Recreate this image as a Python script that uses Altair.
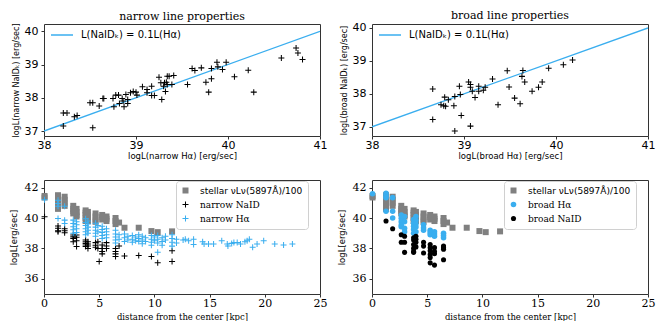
import altair as alt
import pandas as pd

BLUE = "#3aaeef"
GRAY = "#808080"
PLUS = ("M-1,-0.17L-0.17,-0.17L-0.17,-1L0.17,-1L0.17,-0.17L1,-0.17L1,0.17"
        "L0.17,0.17L0.17,1L-0.17,1L-0.17,0.17L-1,0.17Z")

# ---------------- top-left: narrow line properties ----------------
narrow_ha = [38.21, 38.25, 38.21, 38.33, 38.36, 38.50, 38.53, 38.53, 38.60, 38.64,
             38.65, 38.76, 38.75, 38.78, 38.81, 38.82, 38.85, 38.87, 38.89, 38.91,
             38.86, 38.91, 38.94, 38.97, 39.00, 39.01, 39.07, 39.12, 39.12, 39.17,
             39.17, 39.20, 39.25, 39.28, 39.27, 39.30, 39.31, 39.33, 39.32, 39.34,
             39.36, 39.34, 39.39, 39.41, 39.56, 39.61, 39.64, 39.71, 39.76, 39.79,
             39.82, 39.82, 39.88, 39.89, 39.94, 39.98, 40.07, 40.22, 40.28, 40.58,
             40.74, 40.76, 40.81]
narrow_naid = [37.54, 37.54, 37.15, 37.43, 37.47, 37.85, 37.85, 37.10, 37.75, 37.98,
               37.98, 37.73, 37.98, 38.08, 38.08, 37.83, 37.98, 37.73, 38.10, 37.83,
               37.90, 37.95, 38.15, 38.19, 38.17, 38.08, 38.33, 38.25, 38.15, 38.35,
               38.07, 38.07, 38.62, 37.95, 38.45, 38.35, 38.45, 38.47, 38.19, 38.65,
               38.65, 38.40, 38.40, 38.67, 38.40, 38.88, 38.82, 38.90, 38.47, 38.17,
               38.57, 38.88, 39.07, 38.93, 38.85, 39.07, 38.63, 38.83, 38.17, 39.20,
               39.50, 39.35, 39.15]

# ---------------- top-right: broad line properties ----------------
broad_ha = [38.66, 38.66, 38.75, 38.78, 38.79, 38.80, 38.83, 38.89, 38.90, 38.90,
            38.95, 38.96, 38.97, 39.05, 39.07, 39.07, 39.07, 39.09, 39.12, 39.16,
            39.16, 39.21, 39.23, 39.31, 39.37, 39.47, 39.49, 39.55, 39.61, 39.64,
            39.63, 39.66, 39.74, 39.81, 39.85, 39.92, 40.08, 40.18]
broad_naid = [38.15, 37.22, 37.67, 37.64, 37.90, 37.62, 37.82, 37.64, 37.92, 36.87,
              38.23, 37.98, 37.34, 38.36, 38.28, 38.20, 37.02, 38.08, 37.89, 38.23,
              38.08, 38.11, 38.20, 38.45, 37.67, 38.70, 38.21, 37.87, 37.70, 38.71,
              38.53, 38.36, 38.08, 38.20, 38.36, 38.78, 38.88, 39.03]

# relation L(NaID_K) = 0.1 L(Halpha)
rel_ha = [38.0, 41.0]
rel_naid = [37.0, 40.0]
REL_LABEL = "L(NaIDₖ) = 0.1L(Hα)"

# ---------------- bottom: luminosity vs distance ----------------
STELLAR = "stellar νLν(5897Å)/100"
stellar_dist = [0.05, 0.05, 1.27, 1.27, 1.27, 1.27, 1.27, 1.27, 1.87, 1.87, 1.87, 1.87,
                2.65, 2.65, 2.65, 2.65, 2.95, 2.95, 2.95, 2.95, 3.77, 3.77, 3.77, 3.77, 3.77,
                3.98, 3.98, 3.98, 3.98, 4.67, 4.67, 4.67, 4.67, 5.27, 5.27, 5.27,
                5.66, 5.66, 5.66, 6.48, 6.48, 6.48, 6.8, 7.29, 8.58, 9.73, 10.3, 11.6]
stellar_lum = [41.45, 41.35, 41.5, 41.3, 41.1, 40.9, 40.7, 40.6, 41.4, 41.2, 41.0, 40.8,
               40.8, 40.6, 40.45, 40.3, 40.6, 40.4, 40.2, 40.1, 40.5, 40.35, 40.2, 40.0, 39.8,
               40.4, 40.2, 40.0, 39.8, 40.3, 40.1, 39.9, 39.75, 40.2, 40.05, 39.9,
               40.1, 39.95, 39.8, 40.0, 39.8, 39.6, 39.7, 39.36, 39.36, 39.14, 39.07, 39.12]

nn_dist = [0.05, 1.27, 1.27, 1.27, 1.27, 1.87, 1.87, 1.87, 2.65, 2.65, 2.65, 2.65,
           2.95, 2.95, 2.95, 2.95, 3.77, 3.77, 3.77, 3.77, 3.77, 3.98, 3.98, 3.98, 3.98,
           4.67, 4.67, 4.67, 4.88, 4.88, 5.0, 5.27, 5.27, 5.27, 5.27, 5.66, 5.66, 5.66,
           6.48, 6.48, 6.48, 6.48, 6.8, 7.29, 8.58, 9.73, 10.3, 11.6, 11.6]
nn_lum = [40.08, 39.47, 39.32, 39.16, 39.10, 39.30, 39.16, 39.03, 38.88, 38.77, 38.66, 38.44,
          38.88, 38.73, 38.50, 38.12, 38.55, 38.44, 38.33, 38.22, 38.12, 38.44, 38.29, 38.16, 38.00,
          38.38, 38.20, 38.07, 38.44, 38.00, 37.14, 38.22, 38.00, 37.79, 37.64, 38.38, 38.16, 38.00,
          38.00, 37.79, 37.64, 37.46, 38.16, 37.50, 37.53, 37.46, 37.06, 37.14, 37.85]

nh_dist = [0.05, 1.27, 1.27, 1.27, 1.27, 1.87, 1.87, 1.87,
           2.65, 2.65, 2.65, 2.65, 2.65, 2.95, 2.95, 2.95, 2.95,
           3.77, 3.77, 3.77, 3.77, 3.77, 3.77, 3.98, 3.98, 3.98, 3.98, 3.98,
           4.67, 4.67, 4.67, 4.67, 4.67, 4.88, 4.88, 5.27, 5.27, 5.27, 5.27, 5.27,
           5.66, 5.66, 5.66, 5.66, 6.48, 6.48, 6.48, 6.48, 6.48, 6.8, 6.8,
           7.29, 7.29, 7.29, 7.6, 7.6, 8.0, 8.0, 8.0, 8.3, 8.3, 8.58, 8.58, 8.58,
           8.9, 8.9, 8.9, 9.2, 9.2, 9.73, 9.73, 9.73, 9.73, 10.0, 10.0,
           10.3, 10.3, 10.3, 10.3, 10.7, 10.7, 10.7, 11.0, 11.0, 11.6, 11.6, 11.6, 11.6,
           12.0, 12.0, 12.6, 12.8, 13.1, 13.55, 13.55, 14.37, 14.5, 14.9, 15.36, 16.1,
           16.6, 16.66, 17.0, 17.2, 17.5, 17.8, 18.2, 18.4, 18.6, 18.9, 19.3, 19.9,
           20.9, 21.7, 22.5]
nh_lum = [41.20, 41.17, 40.95, 40.78, 39.97, 40.78, 39.86, 39.64,
          39.86, 39.64, 39.43, 39.22, 39.00, 39.75, 39.55, 39.30, 39.05,
          39.95, 39.70, 39.50, 39.30, 39.10, 38.90, 39.80, 39.60, 39.40, 39.20, 39.00,
          39.65, 39.40, 39.20, 39.00, 38.80, 39.50, 39.10, 39.45, 39.25, 39.05, 38.85, 38.65,
          39.30, 39.10, 38.90, 38.70, 39.20, 38.95, 38.75, 38.55, 38.35, 38.90, 38.60,
          38.95, 38.70, 38.45, 38.80, 38.55, 38.85, 38.60, 38.40, 38.75, 38.50, 38.90, 38.65, 38.45,
          38.80, 38.55, 38.30, 38.70, 38.45, 38.85, 38.60, 38.40, 38.20, 38.75, 38.50,
          38.85, 38.60, 38.35, 37.75, 38.70, 38.45, 38.20, 38.80, 38.55, 38.90, 38.65, 38.40, 38.15,
          38.60, 38.35, 38.55, 38.60, 38.51, 38.60, 38.25, 38.44, 38.29, 38.29, 38.29, 38.51,
          38.29, 38.16, 38.33, 38.38, 38.38, 38.29, 38.44, 38.51, 38.60, 38.07, 38.29, 38.51,
          38.29, 38.22, 38.29]

bh_dist = [0.05, 1.27, 1.27, 1.27, 1.27, 1.87, 1.87, 1.87,
           2.65, 2.65, 2.65, 2.65, 2.65, 2.95, 2.95, 2.95, 2.95,
           3.77, 3.77, 3.77, 3.77, 3.77, 3.98, 3.98, 3.98, 3.98, 3.98,
           4.67, 4.67, 4.67, 5.27, 5.27, 5.27, 5.66, 5.66, 5.66, 6.48, 6.48, 6.48]
bh_lum = [41.60, 41.62, 41.45, 41.34, 40.45, 41.34, 40.45, 40.00,
          40.20, 39.98, 39.76, 39.54, 39.43, 40.10, 39.76, 39.32, 39.10,
          39.90, 39.65, 39.45, 39.25, 39.00, 40.10, 39.85, 39.60, 39.40, 39.10,
          39.55, 39.35, 39.20, 39.20, 39.05, 38.90, 39.10, 38.95, 38.80, 39.00, 38.85, 38.70]

bn_dist = [1.27, 1.87, 2.65, 2.65, 2.95, 2.95, 2.95,
           3.77, 3.77, 3.77, 3.77, 3.77, 3.77, 3.98, 3.98, 3.98, 3.98,
           4.67, 4.67, 4.67, 5.27, 5.27, 5.27, 5.27, 5.27, 5.27,
           5.66, 5.66, 5.66, 5.66, 6.48, 6.48, 6.48, 6.48]
bn_lum = [39.80, 39.29, 38.90, 38.40, 38.80, 38.40, 37.74,
          38.70, 38.55, 38.25, 38.00, 37.80, 37.74, 38.80, 38.60, 38.40, 38.10,
          38.40, 38.15, 37.70, 38.25, 38.05, 37.85, 37.60, 37.40, 37.05,
          38.05, 37.80, 37.65, 36.90, 38.15, 38.05, 37.95, 37.25]

SANS = "DejaVu Sans"
SERIF = "DejaVu Serif"


def top_panel(xs, ys, title, xtitle, ytitle, ydom):
    pts = pd.DataFrame({"x": xs, "y": ys})
    rel = pd.DataFrame({"x": rel_ha, "y": rel_naid, "s": [REL_LABEL, REL_LABEL]})
    xsc = alt.Scale(domain=[38, 41], nice=False, zero=False)
    ysc = alt.Scale(domain=ydom, nice=False, zero=False)
    xax = alt.Axis(values=[38, 39, 40, 41], format="d", title=xtitle,
                   labelFont=SANS, labelFontSize=11, titleFont=SANS, titleFontSize=8.5,
                   titleFontWeight="normal", labelPadding=0, titlePadding=1,
                   labelFlush=False, labelOverlap=False)
    yax = alt.Axis(values=[37, 38, 39, 40], format="d", title=ytitle,
                   labelFont=SANS, labelFontSize=11, titleFont=SANS, titleFontSize=8,
                   titleFontWeight="normal", labelPadding=3, titlePadding=4,
                   labelFlush=False, labelOverlap=False, labelBound=False)
    line = alt.Chart(rel).mark_line(strokeWidth=1.3, clip=True).encode(
        x=alt.X("x:Q", scale=xsc, axis=xax),
        y=alt.Y("y:Q", scale=ysc, axis=yax),
        color=alt.Color("s:N", scale=alt.Scale(domain=[REL_LABEL], range=[BLUE]),
                        legend=alt.Legend(title=None, orient="none", legendX=6, legendY=-1,
                                          symbolType="stroke", symbolSize=484,
                                          symbolStrokeWidth=1.5, labelFont=SANS,
                                          labelFontSize=10, labelOffset=7, padding=0,
                                          labelColor="black")),
    )
    dots = alt.Chart(pts).mark_point(shape=PLUS, filled=True, size=36, color="black",
                                     opacity=1, strokeWidth=0).encode(
        x=alt.X("x:Q", scale=xsc, axis=xax), y=alt.Y("y:Q", scale=ysc, axis=yax))
    return alt.layer(line, dots).properties(
        width=276, height=112,
        title=alt.TitleParams(title, font=SERIF, fontSize=11, fontWeight="normal",
                              offset=1, color="black", frame="group"))


def bottom_panel(frames, labels, colors, shapes, sizes):
    df = pd.concat(frames, ignore_index=True)
    leg = alt.Legend(title=None, orient="none", legendX=132, legendY=1,
                     fillColor="white", strokeColor="#d0d0d0", cornerRadius=3, padding=5,
                     labelFont=alt.ExprRef(
                         "indexof(datum.label, 'stellar') >= 0 ? 'DejaVu Sans' : 'DejaVu Serif'"),
                     labelFontSize=9, labelColor="black",
                     symbolSize=30, symbolStrokeWidth=0, rowPadding=4, labelOffset=10)
    return alt.Chart(df).mark_point(filled=True, opacity=1, strokeWidth=0).encode(
        x=alt.X("d:Q", scale=alt.Scale(domain=[0, 25], nice=False),
                axis=alt.Axis(values=[0, 5, 10, 15, 20, 25], format="d",
                              title="distance from the center [kpc]",
                              labelFont=SERIF, labelFontSize=11, titleFont=SERIF,
                              titleFontSize=8.5, titleFontWeight="normal", labelPadding=0,
                              titlePadding=4, labelFlush=False, labelOverlap=False)),
        y=alt.Y("L:Q", scale=alt.Scale(domain=[35, 42.5], nice=False, zero=False),
                axis=alt.Axis(values=[36, 38, 40, 42], format="d", title="logL[erg/sec]",
                              labelFont=SERIF, labelFontSize=11, titleFont=SANS,
                              titleFontSize=8.5, titleFontWeight="normal", labelPadding=3,
                              titlePadding=6, labelOverlap=False)),
        color=alt.Color("s:N", scale=alt.Scale(domain=labels, range=colors), legend=leg),
        shape=alt.Shape("s:N", scale=alt.Scale(domain=labels, range=shapes), legend=leg),
        size=alt.Size("s:N", scale=alt.Scale(domain=labels, range=sizes), legend=None),
    ).properties(width=276, height=114)


tl = top_panel(narrow_ha, narrow_naid, "narrow line properties",
               "logL(narrow Hα) [erg/sec]", "logL(narrow NaIDₖ) [erg/sec]", [36.85, 40.22])
tr = top_panel(broad_ha, broad_naid, "broad line properties",
               "logL(broad Hα) [erg/sec]", "logL(broad NaIDₖ) [erg/sec]", [36.72, 40.12])

bl_labels = [STELLAR, "narrow NaID", "narrow Hα"]
bl = bottom_panel(
    [pd.DataFrame({"d": stellar_dist, "L": stellar_lum, "s": STELLAR}),
     pd.DataFrame({"d": nn_dist, "L": nn_lum, "s": "narrow NaID"}),
     pd.DataFrame({"d": nh_dist, "L": nh_lum, "s": "narrow Hα"})],
    bl_labels, [GRAY, "black", BLUE], ["square", PLUS, PLUS], [36, 36, 36])

br_labels = [STELLAR, "broad Hα", "broad NaID"]
br = bottom_panel(
    [pd.DataFrame({"d": stellar_dist, "L": stellar_lum, "s": STELLAR}),
     pd.DataFrame({"d": bh_dist, "L": bh_lum, "s": "broad Hα"}),
     pd.DataFrame({"d": bn_dist, "L": bn_lum, "s": "broad NaID"})],
    br_labels, [GRAY, BLUE, "black"], ["square", "circle", "circle"], [36, 26, 26])

chart = alt.concat(
    tl, tr, bl, br, columns=2, bounds="flush", align="all",
    spacing={"row": 42, "column": 52},
).resolve_scale(
    color="independent", shape="independent", size="independent"
).resolve_legend(
    color="independent", shape="independent", size="independent"
).properties(
    padding={"left": 0, "top": 1, "right": 0, "bottom": 0}
).configure_view(
    stroke="#333333", strokeWidth=1
).configure_axis(
    grid=False, domain=False, tickColor="#333333", tickSize=3, labelColor="black",
    titleColor="black"
)

chart.save("out.html", embed_options={"renderer": "svg", "actions": False})
